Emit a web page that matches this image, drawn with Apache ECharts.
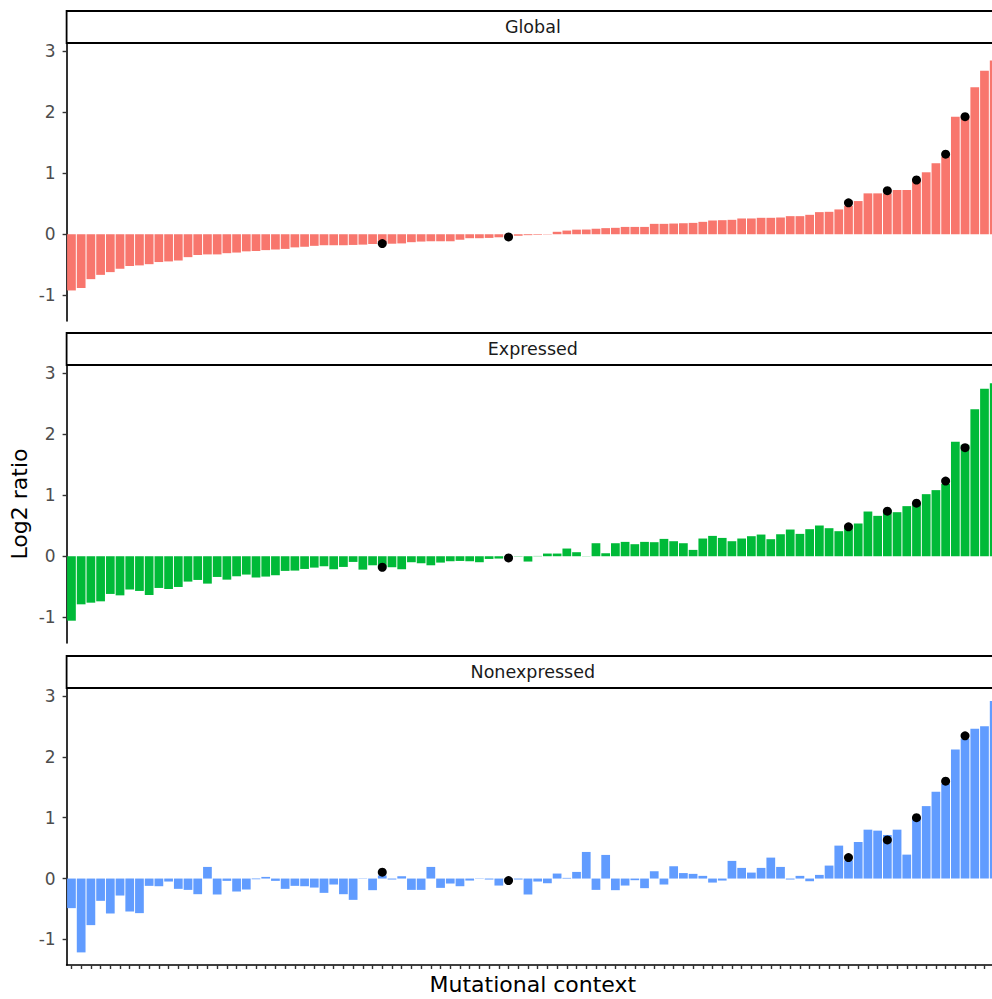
<!DOCTYPE html>
<html><head><meta charset="utf-8">
<script src="https://cdn.jsdelivr.net/npm/echarts@6/dist/echarts.min.js"></script>
<style>html,body{margin:0;padding:0;background:#fff}#c{width:992px;height:999px}</style>
</head><body><div id="c"></div>
<script>
// ---- data ----
const contexts = Array.from({length: 96}, (_, i) => String(i + 1));
const panels = ['Global', 'Expressed', 'Nonexpressed'];
const yTicks = [-1, 0, 1, 2, 3];

const globalVals = [
-0.92,-0.88,-0.735,-0.665,-0.62,-0.565,-0.52,-0.51,-0.49,-0.455,
-0.445,-0.43,-0.375,-0.34,-0.33,-0.33,-0.31,-0.30,-0.28,-0.275,
-0.26,-0.25,-0.24,-0.215,-0.205,-0.19,-0.18,-0.18,-0.18,-0.175,
-0.17,-0.16,-0.155,-0.155,-0.15,-0.13,-0.12,-0.115,-0.115,-0.115,
-0.09,-0.065,-0.065,-0.06,-0.05,-0.045,-0.025,-0.015,-0.01,-0.005,
0.04,0.06,0.075,0.077,0.09,0.10,0.105,0.12,0.12,0.12,
0.17,0.17,0.175,0.18,0.186,0.203,0.225,0.23,0.236,0.258,
0.258,0.269,0.269,0.274,0.296,0.296,0.318,0.362,0.367,0.406,
0.466,0.543,0.669,0.669,0.669,0.724,0.724,0.888,1.014,1.162,
1.27,1.924,1.93,2.407,2.675,2.845];

const expressedVals = [
-1.055,-0.787,-0.76,-0.738,-0.617,-0.64,-0.546,-0.568,-0.634,-0.519,
-0.536,-0.503,-0.415,-0.388,-0.448,-0.339,-0.383,-0.328,-0.30,-0.35,
-0.333,-0.311,-0.24,-0.235,-0.208,-0.186,-0.164,-0.213,-0.175,-0.093,
-0.219,-0.148,-0.17,-0.18,-0.213,-0.098,-0.115,-0.148,-0.104,-0.082,
-0.077,-0.082,-0.098,-0.044,-0.038,-0.016,-0.005,-0.087,0.005,0.044,
0.044,0.126,0.066,0.003,0.213,0.049,0.213,0.235,0.197,0.235,
0.23,0.284,0.246,0.213,0.104,0.29,0.333,0.30,0.246,0.29,
0.328,0.355,0.279,0.36,0.437,0.366,0.443,0.503,0.459,0.41,
0.464,0.536,0.732,0.661,0.76,0.721,0.82,0.852,1.016,1.082,
1.186,1.874,1.825,2.404,2.743,2.83];

const nonexpressedVals = [
-0.486,-1.213,-0.765,-0.366,-0.574,-0.279,-0.541,-0.568,-0.12,-0.126,
-0.049,-0.169,-0.186,-0.257,0.191,-0.262,-0.038,-0.213,-0.18,-0.01,
0.027,-0.038,-0.169,-0.12,-0.126,-0.148,-0.235,-0.098,-0.257,-0.35,
0.005,-0.191,0.05,-0.016,0.038,-0.186,-0.186,0.191,-0.153,-0.082,
-0.126,-0.033,-0.005,-0.016,-0.115,-0.016,-0.016,-0.262,-0.049,-0.077,
0.082,0.011,0.109,0.437,-0.186,0.388,-0.191,-0.115,-0.027,-0.158,
0.12,-0.098,0.202,0.09,0.077,0.044,-0.066,-0.033,0.29,0.175,
0.098,0.175,0.344,0.191,-0.016,0.044,-0.044,0.06,0.213,0.541,
0.30,0.60,0.803,0.787,0.716,0.803,0.393,1.0,1.19,1.426,
1.557,2.12,2.295,2.459,2.503,2.918];

const dotContexts = [33, 46, 81, 85, 88, 91, 93];
const globalDots = [-0.153, -0.044, 0.515, 0.713, 0.888, 1.31, 1.924];
const expressedDots = [-0.18, -0.027, 0.481, 0.738, 0.869, 1.23, 1.776];
const nonexpressedDots = [0.104, -0.033, 0.344, 0.634, 1.0, 1.60, 2.344];

// ---- layout / style ----
const colors = ['#F8766D', '#00BA38', '#619CFF'];
const FONT = 'DejaVu Sans';
const STEP = 9.713;
const LEFT = 66.6;
const W = 96 * STEP;
const tops = [43, 365, 688];
const heights = [278, 278, 277];
const stripH = 32;
const YMIN = -1.42, YMAX = 3.13;

const barVals = [globalVals, expressedVals, nonexpressedVals];
const dotVals = [globalDots, expressedDots, nonexpressedDots];

const chart = echarts.init(document.getElementById('c'), null, {renderer: 'svg'});

const grids = [], xAxes = [], yAxes = [], series = [], graphics = [];
for (let p = 0; p < 3; p++) {
  grids.push({left: LEFT, top: tops[p], width: W, height: heights[p],
              containLabel: false, outerBoundsMode: 'none'});
  const last = p === 2;
  xAxes.push({
    type: 'category', gridIndex: p, data: contexts,
    axisLine: {show: last, onZero: false, lineStyle: {color: '#000', width: 1.6}},
    axisTick: {show: last, alignWithLabel: true, interval: 0, length: 4,
               lineStyle: {color: '#333', width: 1.4}},
    axisLabel: {show: false},
    splitLine: {show: false},
    name: last ? 'Mutational context' : '',
    nameLocation: 'middle', nameGap: 8,
    nameTextStyle: {fontFamily: FONT, fontSize: 22, color: '#000', verticalAlign: 'top'}
  });
  yAxes.push({
    type: 'value', gridIndex: p, min: YMIN, max: YMAX,
    axisLine: {show: true, lineStyle: {color: '#000', width: 1.6}},
    axisTick: {show: true, length: 4, customValues: yTicks, lineStyle: {color: '#333', width: 1.4}},
    axisLabel: {customValues: yTicks, color: '#4d4d4d', fontFamily: FONT, fontSize: 17, margin: 11},
    splitLine: {show: false},
    name: p === 1 ? 'Log2 ratio' : '',
    nameLocation: 'middle', nameGap: 36, nameRotate: 90, nameMoveOverlap: false,
    nameTextStyle: {fontFamily: FONT, fontSize: 22, color: '#000'}
  });
  series.push({
    type: 'bar', xAxisIndex: p, yAxisIndex: p, data: barVals[p],
    barWidth: '90%', itemStyle: {color: colors[p]}, silent: true
  });
  series.push({
    type: 'scatter', xAxisIndex: p, yAxisIndex: p, symbol: 'circle', symbolSize: 9,
    itemStyle: {color: '#000', opacity: 1}, z: 5, silent: true,
    data: dotContexts.map((c, k) => [contexts[c - 1], dotVals[p][k]])
  });
  graphics.push({
    type: 'rect', shape: {x: LEFT, y: tops[p] - stripH, width: W + 20, height: stripH},
    style: {fill: '#fff', stroke: '#000', lineWidth: 1.8}, z: 10
  });
  graphics.push({
    type: 'text', x: LEFT + W / 2, y: tops[p] - stripH / 2, z: 11,
    style: {text: panels[p], fill: '#1a1a1a', font: '17.5px "DejaVu Sans"',
            textAlign: 'center', textVerticalAlign: 'middle'}
  });
}

chart.setOption({
  animation: false,
  backgroundColor: '#fff',
  grid: grids, xAxis: xAxes, yAxis: yAxes, series: series,
  graphic: graphics
});
</script></body></html>
